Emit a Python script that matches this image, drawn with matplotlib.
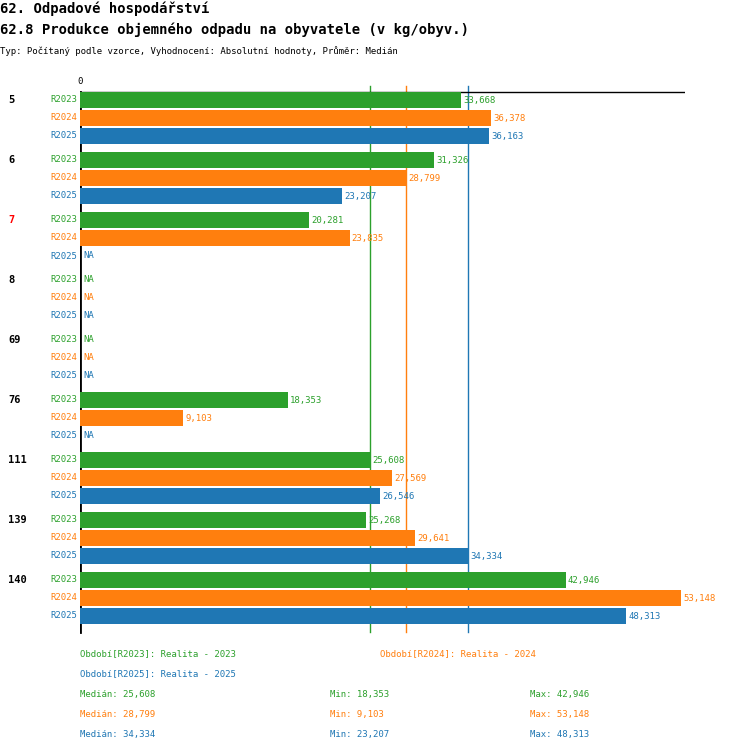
import matplotlib
matplotlib.use("Agg")
import matplotlib.pyplot as plt

groups = ["5", "6", "7", "8", "69", "76", "111", "139", "140"]
series = ["R2023", "R2024", "R2025"]
v2023 = [33668, 31326, 20281, None, None, 18353, 25608, 25268, 42946]
v2024 = [36378, 28799, 23835, None, None, 9103, 27569, 29641, 53148]
v2025 = [36163, 23207, None, None, None, None, 26546, 34334, 48313]
medians = [25608, 28799, 34334]
mins = [18353, 9103, 23207]
maxs = [42946, 53148, 48313]
colors = ["#2ca02c", "#ff7f0e", "#1f77b4"]
descs = ["Realita - 2023", "Realita - 2024", "Realita - 2025"]

W, H = 750, 752
fig = plt.figure(figsize=(7.5, 7.52), dpi=100)
mono = "DejaVu Sans Mono"
x0, x1 = 80, 685
scale = 601 / 53148.0
ax = fig.add_axes([x0 / W, 0, (x1 - x0) / W, 1])
ax.set_xlim(0, (x1 - x0) / scale)
ax.set_ylim(H, 0)
ax.axis("off")

def fx(px): return px / W
def fy(py): return 1 - py / H

fig.text(fx(0), fy(9), "62. Odpadové hospodářství", family=mono, fontsize=10, weight="bold", va="center")
fig.text(fx(0), fy(30), "62.8 Produkce objemného odpadu na obyvatele (v kg/obyv.)", family=mono, fontsize=10, weight="bold", va="center")
fig.text(fx(0), fy(51), "Typ: Počítaný podle vzorce, Vyhodnocení: Absolutní hodnoty, Průměr: Medián", family=mono, fontsize=6.5, va="center")

ax.plot([0, (x1 - x0) / scale], [92, 92], color="black", lw=1)
ax.plot([0, 0], [92, 632], color="black", lw=2)
ax.text(0, 81, "0", family=mono, fontsize=6.5, ha="center", va="center")
for m, c in zip(medians, colors):
    ax.plot([m, m], [86, 632], color=c, lw=1, zorder=0)

all_vals = [v2023, v2024, v2025]
for gi, g in enumerate(groups):
    base = 100 + 60 * gi
    fig.text(fx(8), fy(base), g, family=mono, fontsize=7.5, weight="bold",
             color="red" if g == "7" else "black", va="center")
    for si in range(3):
        y = base + 18 * si
        v = all_vals[si][gi]
        c = colors[si]
        fig.text(fx(77), fy(y), series[si], family=mono, fontsize=6.5, color=c, ha="right", va="center")
        if v is None:
            ax.text(300, y, "NA", family=mono, fontsize=6.5, color=c, va="center")
        else:
            ax.barh(y, v, height=16, color=c, zorder=2)
            ax.text(v + 200, y, f"{v:,}", family=mono, fontsize=6.5, color=c, va="center")

fig.text(fx(80), fy(654), f"Období[R2023]: {descs[0]}", family=mono, fontsize=6.5, color=colors[0], va="center")
fig.text(fx(380), fy(654), f"Období[R2024]: {descs[1]}", family=mono, fontsize=6.5, color=colors[1], va="center")
fig.text(fx(80), fy(674), f"Období[R2025]: {descs[2]}", family=mono, fontsize=6.5, color=colors[2], va="center")
for i in range(3):
    y = 694 + 20 * i
    fig.text(fx(80), fy(y), f"Medián: {medians[i]:,}", family=mono, fontsize=6.5, color=colors[i], va="center")
    fig.text(fx(330), fy(y), f"Min: {mins[i]:,}", family=mono, fontsize=6.5, color=colors[i], va="center")
    fig.text(fx(530), fy(y), f"Max: {maxs[i]:,}", family=mono, fontsize=6.5, color=colors[i], va="center")

fig.savefig("out.png", dpi=100)
